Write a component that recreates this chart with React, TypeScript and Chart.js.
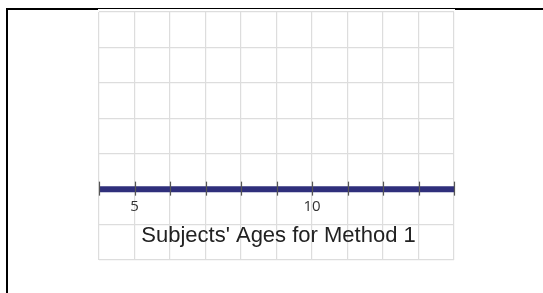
import React, { useEffect, useRef } from "react";
import { Chart, registerables } from "chart.js";

Chart.register(...registerables);

const xTickValues = [4, 5, 6, 7, 8, 9, 10, 11, 12, 13, 14];
const labeledTicks = [5, 10];
const lineXs = [4, 14];
const lineY = 2;
const axisTitle = "Subjects' Ages for Method 1";

const numberLinePlugin = {
  id: "numberLine",
  beforeDraw(chart: any) {
    const { ctx, width, height } = chart;
    ctx.save();
    ctx.fillStyle = "#ffffff";
    ctx.fillRect(0, 0, width, height);
    ctx.fillStyle = "#000000";
    ctx.fillRect(6, 8, 2, height - 8);
    ctx.fillRect(6, 8, width - 6, 2);
    ctx.restore();
  },
  beforeDatasetsDraw(chart: any) {
    const { ctx, chartArea } = chart;
    ctx.save();
    ctx.fillStyle = "#ffffff";
    ctx.fillRect(chartArea.left - 1, 9, chartArea.right - chartArea.left + 2, 1);
    ctx.restore();
  },
  afterDatasetsDraw(chart: any) {
    const { ctx } = chart;
    const xs = chart.scales.x;
    const ys = chart.scales.y;
    const yLine = ys.getPixelForValue(lineY);
    ctx.save();
    ctx.strokeStyle = "#555555";
    ctx.lineWidth = 1.2;
    xTickValues.forEach((v) => {
      const px = Math.round(xs.getPixelForValue(v)) + 0.5;
      ctx.beginPath();
      ctx.moveTo(px, yLine - 7.5);
      ctx.lineTo(px, yLine + 6.5);
      ctx.stroke();
    });
    ctx.fillStyle = "#333333";
    ctx.font = "15px 'Open Sans', sans-serif";
    ctx.textAlign = "center";
    ctx.textBaseline = "middle";
    labeledTicks.forEach((v) => {
      ctx.fillText(String(v), xs.getPixelForValue(v), ys.getPixelForValue(1.5));
    });
    ctx.fillStyle = "#222222";
    ctx.font = "22px 'Liberation Sans', Arial, sans-serif";
    ctx.fillText(axisTitle, (xs.left + xs.right) / 2 + 2, ys.getPixelForValue(0.69));
    ctx.restore();
  },
};

export default function App() {
  const ref = useRef<HTMLCanvasElement | null>(null);
  useEffect(() => {
    if (!ref.current) return;
    const chart = new Chart(ref.current, {
      type: "line",
      data: {
        datasets: [
          {
            data: lineXs.map((x) => ({ x, y: lineY })),
            borderColor: "#2f2f7b",
            borderWidth: 6,
            borderCapStyle: "butt",
            pointRadius: 0,
            fill: false,
          },
        ],
      },
      options: {
        responsive: false,
        animation: false,
        layout: { padding: { left: 99, top: 12, right: 89, bottom: 33 } },
        plugins: { legend: { display: false }, tooltip: { enabled: false } },
        scales: {
          x: {
            type: "linear",
            min: 4,
            max: 14,
            ticks: { display: false, stepSize: 1 },
            grid: { color: "#dddddd", lineWidth: 1.2, drawTicks: false },
            border: { display: false },
          },
          y: {
            type: "linear",
            min: 0,
            max: 7,
            ticks: { display: false, stepSize: 1 },
            grid: { color: "#dddddd", lineWidth: 1.2, drawTicks: false },
            border: { display: false },
          },
        },
      },
      plugins: [numberLinePlugin],
    } as any);
    return () => chart.destroy();
  }, []);
  return (
    <div style={{ position: "fixed", left: 0, top: 0, width: 543, height: 293 }}>
      <canvas ref={ref} width={543} height={293} style={{ display: "block" }} />
    </div>
  );
}
